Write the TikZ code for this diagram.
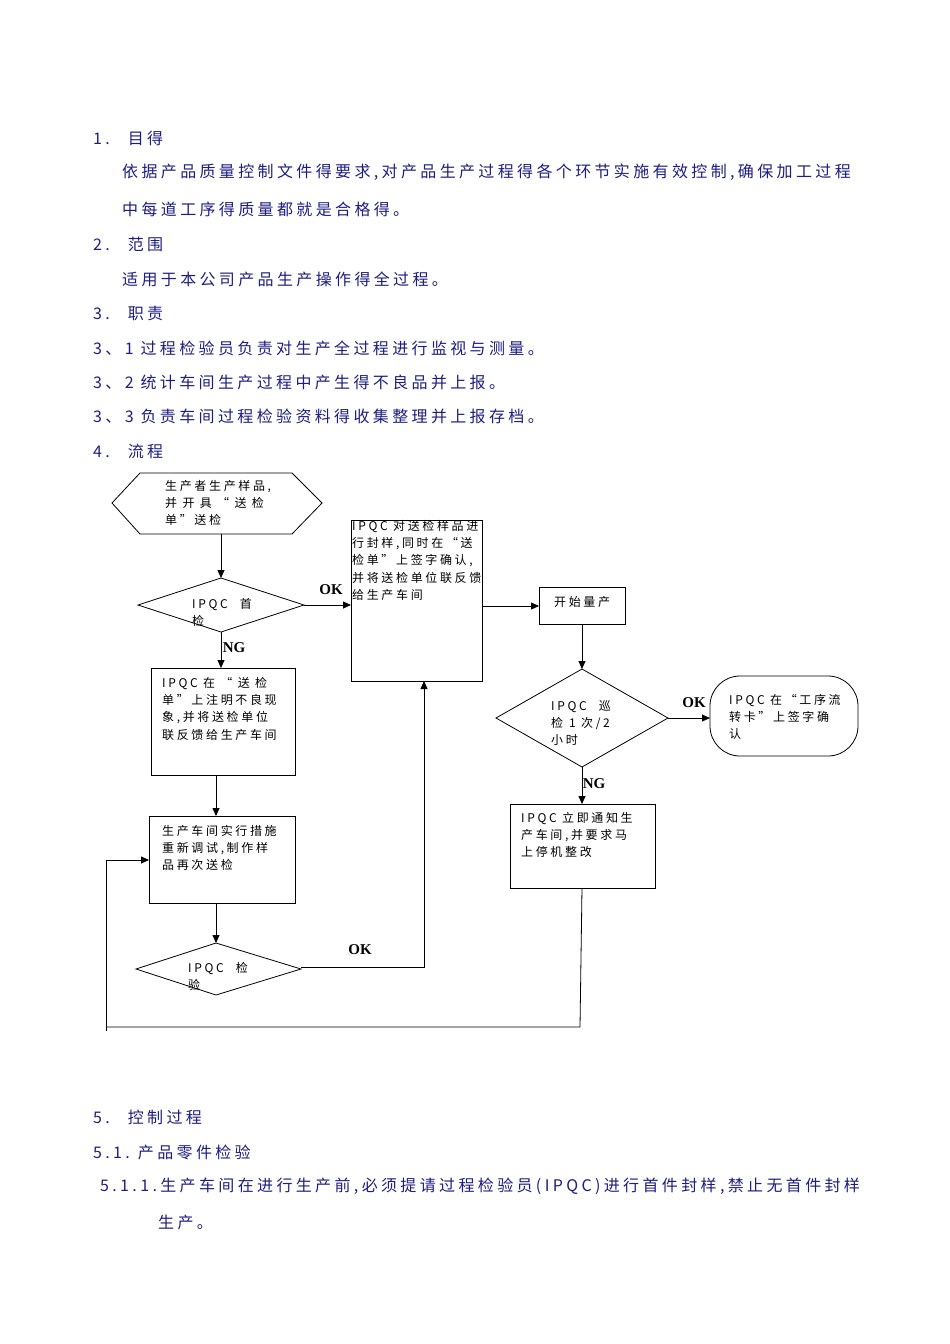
\documentclass[tikz,border=0pt]{standalone}
\usepackage{fontspec}
\setmainfont{Liberation Serif}
\newfontfamily\cjk{Noto Sans CJK SC}[LetterSpace=21]
\newfontfamily\cjkf{Noto Sans CJK SC}[LetterSpace=22]
\usetikzlibrary{arrows.meta}
\definecolor{bodyblue}{RGB}{30,30,130}
\tikzset{
    body/.style={anchor=west, inner sep=0pt, text=bodyblue, font=\cjk\fontsize{16}{18}\selectfont},
    box/.style={draw, line width=0.8pt},
    txt/.style={anchor=north west, inner sep=0pt, align=left, font=\cjkf\fontsize{12}{17.3}\selectfont},
    lbl/.style={inner sep=0pt, font=\bfseries\fontsize{15}{15}\selectfont},
    arr/.style={-{Triangle[length=8pt,width=7pt]}, line width=0.8pt},
    ln/.style={line width=0.8pt}
}
\begin{document}
\begin{tikzpicture}[x=1pt,y=-1pt]
    \useasboundingbox[fill=white] (0,0) rectangle (950,1344);

    % text above
    \node[body] (t1) at (93,138) {1.\hspace{18pt}目得};
    \node[body] (t1a) at (122,172) {依据产品质量控制文件得要求,对产品生产过程得各个环节实施有效控制,确保加工过程};
    \node[body] (t1b) at (122,209) {中每道工序得质量都就是合格得。};
    \node[body] (t2) at (93,244) {2.\hspace{18pt}范围};
    \node[body] (t2a) at (122,279) {适用于本公司产品生产操作得全过程。};
    \node[body] (t3) at (93,313) {3.\hspace{18pt}职责};
    \node[body] (t31) at (93,348) {3、1 过程检验员负责对生产全过程进行监视与测量。};
    \node[body] (t32) at (93,382) {3、2 统计车间生产过程中产生得不良品并上报。};
    \node[body] (t33) at (93,416) {3、3 负责车间过程检验资料得收集整理并上报存档。};
    \node[body] (t4) at (93,451) {4.\hspace{18pt}流程};

    % shapes
    \draw[box] (112,503) -- (140,473) -- (292,473) -- (322,503) -- (292,534) -- (140,534) -- cycle;
    \draw[box] (138,605) -- (221,578) -- (304,605) -- (221,632) -- cycle;
    \draw[box] (351,520) rectangle (482,681);
    \draw[box] (151,668) rectangle (295,775);
    \draw[box] (149,816) rectangle (295,903);
    \draw[box] (136,969) -- (216,943) -- (301,969) -- (216,995) -- cycle;
    \draw[box] (539,587) rectangle (625,624);
    \draw[box] (496,718) -- (582,669) -- (668,718) -- (582,767) -- cycle;
    \draw[box, rounded corners=30pt] (710,676) rectangle (858,756);
    \draw[box] (510,804) rectangle (655,888);

    % texts in shapes
    \node[txt] (start) at (165,480) {生产者生产样品,\\并 开 具 “ 送 检\\单”送检};
    \node[txt] (chk1) at (192,598) {IPQC\hspace{12pt}首\\检};
    \node[txt] (seal) at (352,520) {IPQC 对送检样品进\\行封样,同时在“送\\检单”上签字确认,\\并将送检单位联反馈\\给生产车间};
    \node[txt] (ngnote) at (162,677) {IPQC 在 “ 送 检\\单”上注明不良现\\象,并将送检单位\\联反馈给生产车间};
    \node[txt] (redo) at (162,825) {生产车间实行措施\\重新调试,制作样\\品再次送检};
    \node[txt] (chk2) at (188,962) {IPQC\hspace{12pt}检\\验};
    \node[txt] (mass) at (554,596) {开始量产};
    \node[txt] (patrol) at (551,700) {IPQC\hspace{12pt}巡\\检\hspace{6pt}1 次/2\\小时};
    \node[txt] (sign) at (729,694) {IPQC 在“工序流\\转卡”上签字确\\认};
    \node[txt] (stop) at (521,812) {IPQC 立即通知生\\产车间,并要求马\\上停机整改};

    % labels
    \node[lbl] (ok1) at (331,590) {OK};
    \node[lbl] (ng1) at (234,648) {NG};
    \node[lbl] (ok2) at (360,950) {OK};
    \node[lbl] (ok3) at (694,703) {OK};
    \node[lbl] (ng2) at (594,784) {NG};

    % connectors
    \coordinate (a1) at (221,534);
    \coordinate (a2) at (221,578);
    \draw[arr] (a1) -- (a2);
    \draw[arr] (304,605) -- (351,605);
    \draw[arr] (221,632) -- (221,668);
    \draw[arr] (216,775) -- (216,816);
    \draw[arr] (216,903) -- (216,943);
    \draw[arr] (301,967) -- (424,967) -- (424,681);
    \draw[arr] (482,606) -- (539,606);
    \draw[arr] (582,624) -- (582,669);
    \draw[arr] (668,718) -- (710,718);
    \draw[arr] (582,767) -- (582,804);
    \draw[ln] (582,888) -- (580,1027) -- (106,1027);
    \draw[ln] (106,1031) -- (106,860);
    \draw[arr] (106,860) -- (149,860);

    % text below
    \node[body] (t5) at (93,1117) {5.\hspace{18pt}控制过程};
    \node[body] (t51) at (93,1152) {5.1.\hspace{8pt}产品零件检验};
    \node[body] (t511) at (100,1186) {5.1.1.生产车间在进行生产前,必须提请过程检验员(IPQC)进行首件封样,禁止无首件封样};
    \node[body] (t511b) at (158,1222) {生产。};
\end{tikzpicture}
\end{document}
